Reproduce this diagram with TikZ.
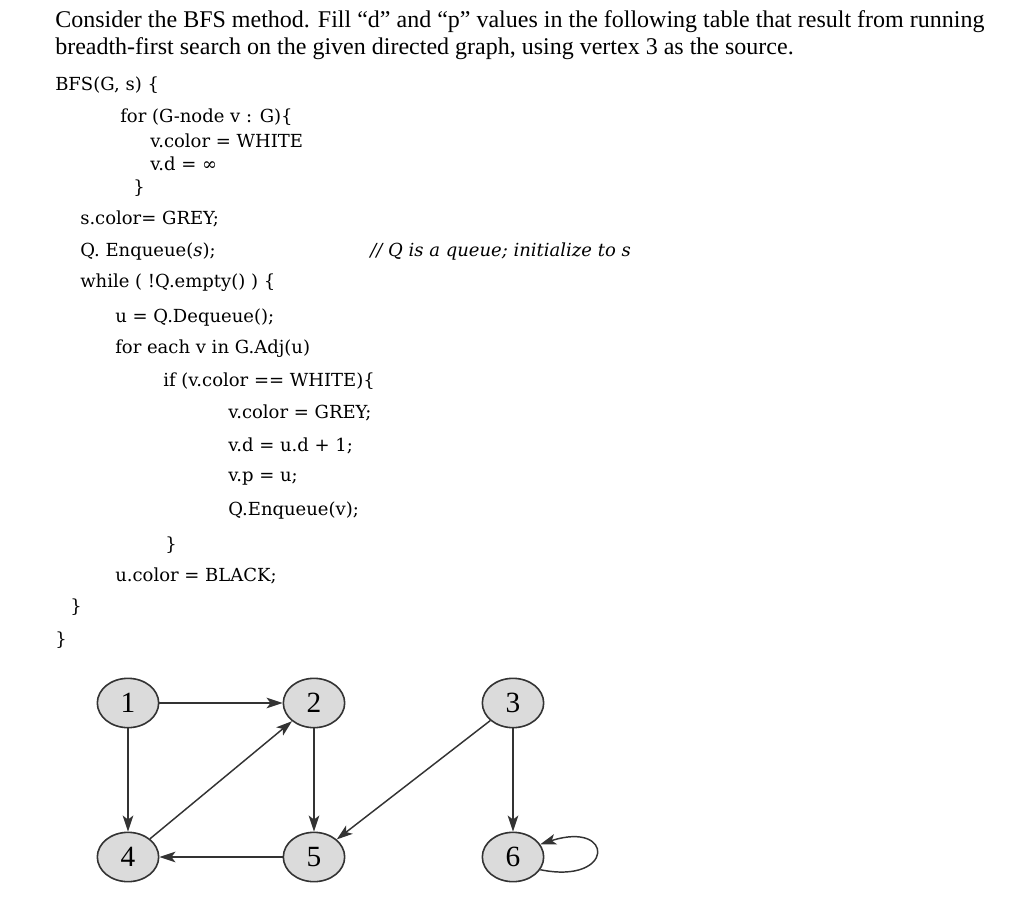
\documentclass[tikz,border=0pt]{standalone}
\usepackage{fontspec}
\setmainfont{Liberation Serif}
\newfontfamily\codefont{DejaVu Serif}
\usetikzlibrary{shapes.geometric,arrows.meta}
\begin{document}
\begin{tikzpicture}[x=0.75pt,y=-0.75pt,
  hdr/.style={anchor=base west,inner sep=0,font=\fontsize{18}{20}\selectfont},
  code/.style={anchor=west,inner sep=0,font=\codefont\fontsize{13.5}{16}\selectfont},
  vtx/.style={ellipse,draw=black!80,fill=black!14,line width=1.2pt,minimum width=46pt,minimum height=37pt,inner sep=0,font=\fontsize{22}{26}\selectfont},
  edge/.style={draw=black!80,line width=1.1pt,-{Stealth[length=12pt,width=8pt,inset=3pt]}}]
\useasboundingbox (0,0) rectangle (1024,916);
\node[hdr] (h1) at (55,28) {Consider the BFS method. Fill “d” and “p” values in the following table that result from running};
\node[hdr] (h2) at (55,55) {breadth-first search on the given directed graph, using vertex 3 as the source.};
\node[code] (c1) at (55,85) {BFS(G, s) \{};
\node[code] (c2) at (120,117) {for (G-node v : G)\{};
\node[code] (c3) at (150,141) {v.color = WHITE};
\node[code] (c4) at (150,164) {v.d = ∞};
\node[code] (c5) at (133,188) {\}};
\node[code] (c6) at (80,219) {s.color= GREY;};
\node[code] (c7) at (80,252) {Q. Enqueue(\textit{s});};
\node[code] (c7b) at (370,252) {\textit{// Q is a queue; initialize to s}};
\node[code] (c8) at (80,283) {while ( !Q.empty() ) \{};
\node[code] (c9) at (115,318) {u = Q.Dequeue();};
\node[code] (c10) at (115,349) {for each v in G.Adj(u)};
\node[code] (c11) at (163,381) {if (v.color == WHITE)\{};
\node[code] (c12) at (228,413) {v.color = GREY;};
\node[code] (c13) at (228,446) {v.d = u.d + 1;};
\node[code] (c14) at (228,479) {v.p = u;};
\node[code] (c15) at (228,511) {Q.Enqueue(v);};
\node[code] (c16) at (165,545) {\}};
\node[code] (c17) at (115,576) {u.color = BLACK;};
\node[code] (c18) at (70,607) {\}};
\node[code] (c19) at (55,640) {\}};
\node[vtx] (n1) at (128,703) {1};
\node[vtx] (n2) at (314,703) {2};
\node[vtx] (n3) at (513,703) {3};
\node[vtx] (n4) at (128,857) {4};
\node[vtx] (n5) at (314,857) {5};
\node[vtx] (n6) at (513,857) {6};
\draw[edge] (n1) -- (n2);
\draw[edge] (n1) -- (n4);
\draw[edge] (n4) -- (n2);
\draw[edge] (n2) -- (n5);
\draw[edge] (n5) -- (n4);
\draw[edge] (n3) -- (n5);
\draw[edge] (n3) -- (n6);
\draw[edge] (n6.-25) .. controls (615,885) and (615,820) .. (n6.25);
\end{tikzpicture}
\end{document}
